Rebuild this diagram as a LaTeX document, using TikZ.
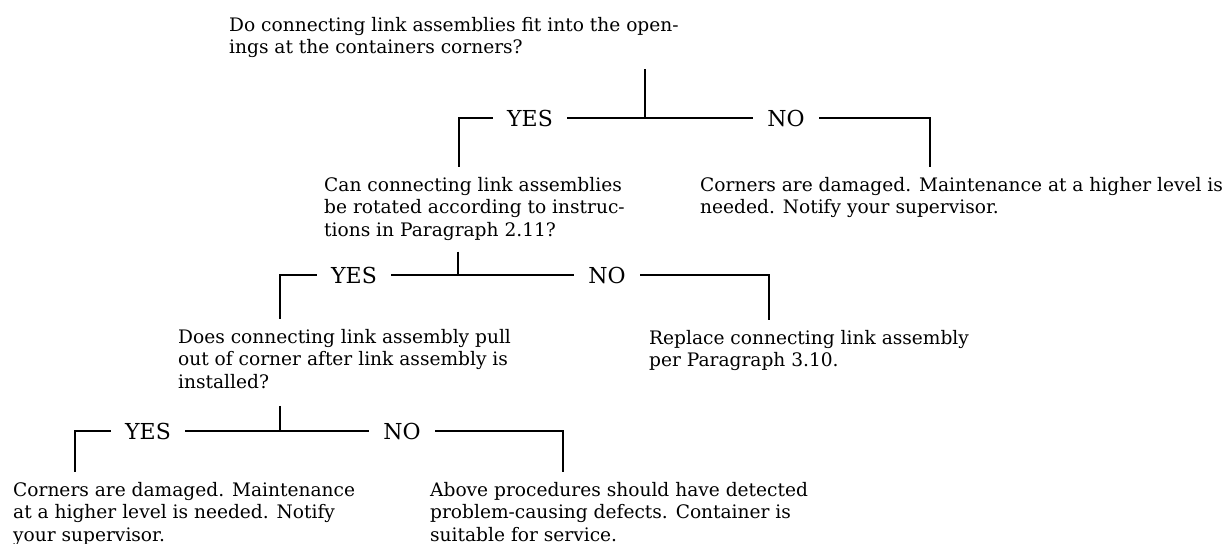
\documentclass[tikz,border=0pt]{standalone}
\usepackage{fontspec}
\setmainfont{DejaVu Serif}
\newcommand\chartfont{\fontsize{9.3pt}{11.25pt}\selectfont}
\newcommand\answerfont{\fontsize{11pt}{13pt}\selectfont}
\begin{document}
\begin{tikzpicture}[x=0.5pt,y=-0.5pt,line width=1.2pt,
    box/.style={anchor=north west,inner sep=0pt,align=left,font=\chartfont},
    answer/.style={fill=white,inner xsep=7pt,inner ysep=1pt,font=\answerfont},
    branch/.style={shorten <=4.5pt,shorten >=4.5pt}]
  \useasboundingbox (0,0) rectangle (1228,544);
  \node[box] (fitq)    at (228,16)  {Do connecting link assemblies fit into the open-\\ings at the containers corners?};
  \node[box] (rotq)    at (323,176) {Can connecting link assemblies\\be rotated according to instruc-\\tions in Paragraph 2.11?};
  \node[box] (dmg1)    at (699,176) {Corners are damaged. Maintenance at a higher level is\\needed. Notify your supervisor.};
  \node[box] (pullq)   at (177,328) {Does connecting link assembly pull\\out of corner after link assembly is\\installed?};
  \node[box] (replace) at (648,329) {Replace connecting link assembly\\per Paragraph 3.10.};
  \node[box] (dmg2)    at (12,481)  {Corners are damaged. Maintenance\\at a higher level is needed. Notify\\your supervisor.};
  \node[box] (service) at (429,481) {Above procedures should have detected\\problem-causing defects. Container is\\suitable for service.};
  \coordinate (j1) at (645,118); \coordinate (l1) at (459,118); \coordinate (r1) at (930,118);
  \coordinate (j2) at (458,275); \coordinate (l2) at (280,275); \coordinate (r2) at (769,275);
  \coordinate (j3) at (280,431); \coordinate (l3) at (75,431);  \coordinate (r3) at (563,431);
  \draw[shorten <=5pt] (fitq.south -| j1)  -- (j1);
  \draw[shorten <=5pt] (rotq.south -| j2)  -- (j2);
  \draw[shorten <=8pt] (pullq.south -| j3) -- (j3);
  \draw[branch] (rotq.north -| l1)  -- (l1) -- (r1) -- (dmg1.north -| r1);
  \draw[branch] (pullq.north -| l2) -- (l2) -- (r2) -- (replace.north -| r2);
  \draw[branch] (dmg2.north -| l3)  -- (l3) -- (r3) -- (service.north -| r3);
  \node[answer] (yes1) at (530,118) {YES};
  \node[answer] (no1)  at (786,118) {NO};
  \node[answer] (yes2) at (354,275) {YES};
  \node[answer] (no2)  at (607,275) {NO};
  \node[answer] (yes3) at (148,431) {YES};
  \node[answer] (no3)  at (402,431) {NO};
\end{tikzpicture}
\end{document}
